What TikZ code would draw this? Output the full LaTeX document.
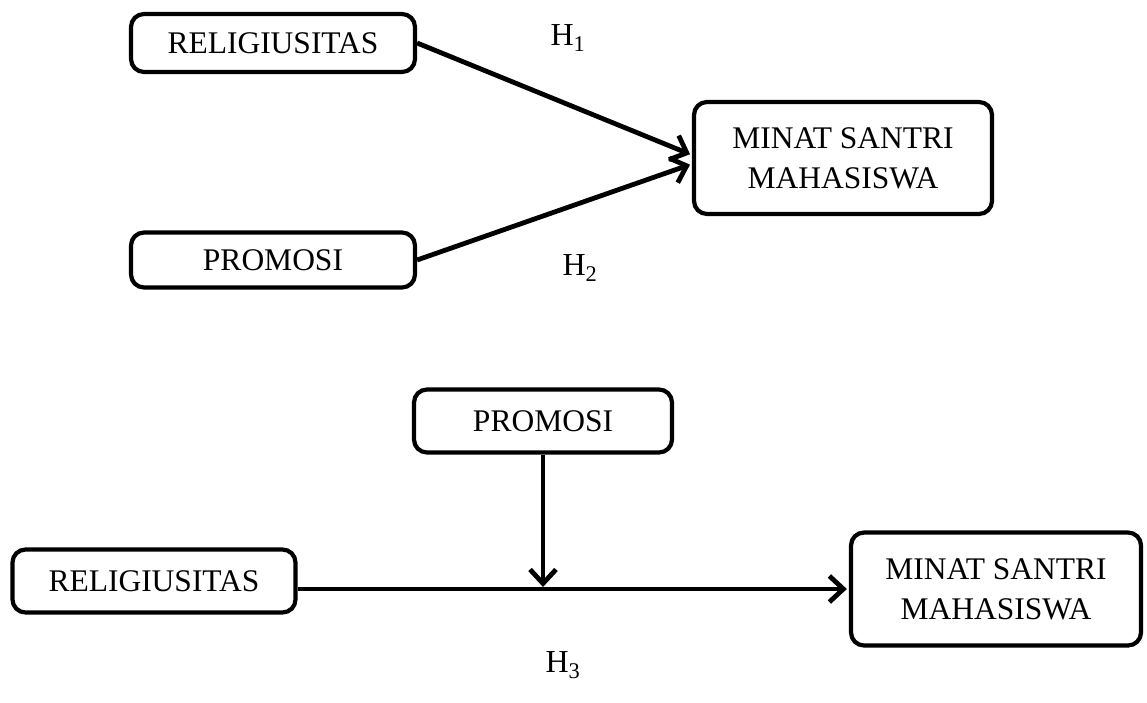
\documentclass[tikz,border=0pt]{standalone}
\usepackage{fontspec}
\setmainfont{Liberation Serif}
\usetikzlibrary{arrows.meta}

\begin{document}
\begin{tikzpicture}[x=1pt, y=-1pt,
    kotak/.style={draw, line width=4.2pt, rounded corners=13pt, align=center,
      inner sep=0pt, font=\fontsize{31.5}{40}\selectfont},
    panah/.style={line width=4.8pt, -{Straight Barb[length=14pt, width=26pt]}},
    hlabel/.style={font=\fontsize{32}{38}\selectfont}
  ]

  % --- Rahmen ---
  \useasboundingbox (0,0) rectangle (1147,703);

  % --- Model atas (H1, H2) ---
  \node[kotak, minimum width=284pt, minimum height=58pt] (relA) at (273,43) {RELIGIUSITAS};
  \node[kotak, minimum width=284pt, minimum height=55pt] (promA) at (273,260) {PROMOSI};
  \node[kotak, minimum width=298pt, minimum height=112pt] (minA) at (843,158) {MINAT SANTRI\\MAHASISWA};

  \draw[panah, shorten >=2pt] (relA.east) -- ([yshift=3pt]minA.west);
  \draw[panah, shorten >=2pt] (promA.east) -- ([yshift=-6pt]minA.west);

  \node[hlabel] (h1) at (568,38) {H\textsubscript{1}};
  \node[hlabel] (h2) at (580,268) {H\textsubscript{2}};

  % --- Model bawah (H3, moderasi) ---
  \node[kotak, minimum width=258pt, minimum height=63pt] (promB) at (543,421) {PROMOSI};
  \node[kotak, minimum width=283pt, minimum height=63pt] (relB) at (154,581) {RELIGIUSITAS};
  \node[kotak, minimum width=290pt, minimum height=113pt] (minB) at (996,589) {MINAT SANTRI\\MAHASISWA};

  \coordinate (temu) at (promB.south |- minB.west);
  \draw[panah, shorten >=2pt] (relB.east |- minB.west) -- (minB.west);
  \draw[panah, shorten >=2pt] (promB.south) -- (temu);

  \node[hlabel] (h3) at (563,665) {H\textsubscript{3}};

\end{tikzpicture}
\end{document}
